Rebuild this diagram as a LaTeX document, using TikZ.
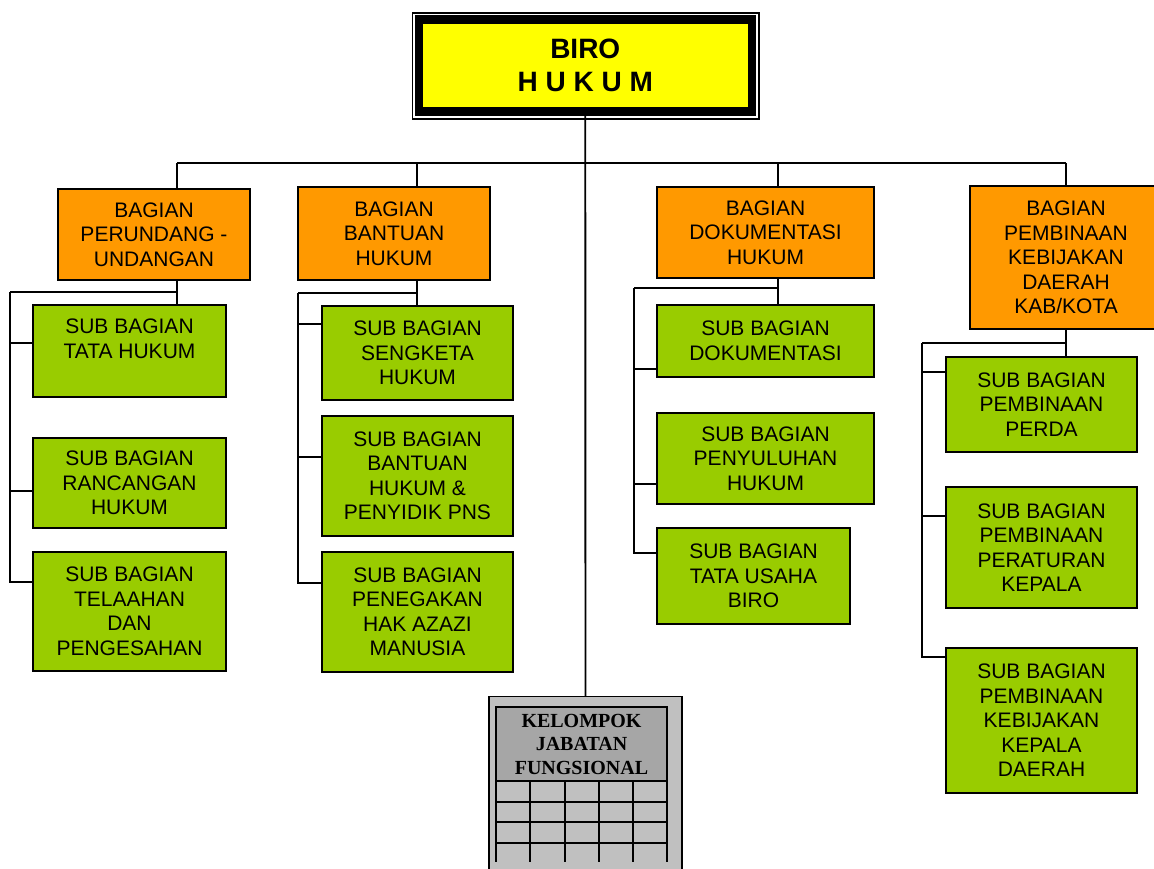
\documentclass[tikz,border=0pt]{standalone}
\usepackage{fontspec}
\setmainfont{Liberation Sans}
\newfontfamily\kelfont{Liberation Serif}
\usepackage{tikz}
\usetikzlibrary{positioning}
\definecolor{biroyellow}{RGB}{255,255,0}
\definecolor{bagianorange}{RGB}{255,153,0}
\definecolor{subgreen}{RGB}{153,204,0}
\definecolor{kelgray}{RGB}{192,192,192}
\definecolor{headgray}{RGB}{166,166,166}

\tikzset{
  orgbox/.style={draw=black, line width=1.8pt, anchor=north west, align=center,
                 inner sep=2pt, outer sep=0pt, font=\fontsize{21}{24.5}\selectfont},
  bagianbox/.style={orgbox, fill=bagianorange},
  subbox/.style={orgbox, fill=subgreen},
  link/.style={draw=black, line width=1.9pt},
  gridline/.style={draw=black, line width=2.5pt},
}

\begin{document}
\begin{tikzpicture}[x=1pt, y=-1pt]
  \useasboundingbox (0,0) rectangle (1154,869);

  % kepala biro
  \node[draw=black, line width=8.5pt, outer sep=0pt, fill=biroyellow,
        minimum width=333pt, minimum height=92pt, align=center,
        font=\bfseries\fontsize{28}{33}\selectfont]
    (biro) at (585.25,65.5) {BIRO\\H U K U M};
  \draw[line width=1.5pt] ([shift={(-6.5pt,6.5pt)}]biro.north west)
    rectangle ([shift={(7pt,-7.5pt)}]biro.south east);

  % bagian
  \node[bagianbox, minimum width=192pt, minimum height=91pt] (perundang) at (58,189)
    {BAGIAN\\PERUNDANG -\\UNDANGAN};
  \node[bagianbox, minimum width=192pt, minimum height=93pt] (bantuan) at (298,187)
    {BAGIAN\\BANTUAN\\HUKUM};
  \node[bagianbox, minimum width=217pt, minimum height=91pt] (dokumentasi) at (657,187)
    {BAGIAN\\DOKUMENTASI\\HUKUM};
  \node[bagianbox, minimum width=192pt, minimum height=143pt] (pembinaan) at (970,186)
    {BAGIAN\\PEMBINAAN\\KEBIJAKAN\\DAERAH\\KAB/KOTA};

  % sub bagian
  \node[subbox, minimum width=193pt, minimum height=92pt] (tatahukum) at (33,305)
    {SUB BAGIAN\\TATA HUKUM\\~};
  \node[subbox, minimum width=193pt, minimum height=90pt] (rancangan) at (33,438)
    {SUB BAGIAN\\RANCANGAN\\HUKUM};
  \node[subbox, minimum width=193pt, minimum height=119pt] (telaahan) at (33,552)
    {SUB BAGIAN\\TELAAHAN\\DAN\\PENGESAHAN};

  \node[subbox, minimum width=191pt, minimum height=94pt] (sengketa) at (322,306)
    {SUB BAGIAN\\SENGKETA\\HUKUM};
  \node[subbox, minimum width=191pt, minimum height=120pt] (penyidik) at (322,416)
    {SUB BAGIAN\\BANTUAN\\HUKUM \&\\PENYIDIK PNS};
  \node[subbox, minimum width=191pt, minimum height=120pt] (penegakan) at (322,552)
    {SUB BAGIAN\\PENEGAKAN\\HAK AZAZI\\MANUSIA};

  \node[subbox, minimum width=217pt, minimum height=72pt] (subdok) at (657,305)
    {SUB BAGIAN\\DOKUMENTASI};
  \node[subbox, minimum width=217pt, minimum height=91pt] (penyuluhan) at (657,413)
    {SUB BAGIAN\\PENYULUHAN\\HUKUM};
  \node[subbox, minimum width=193pt, minimum height=96pt] (tatausaha) at (657,528)
    {SUB BAGIAN\\TATA USAHA\\BIRO};

  \node[subbox, minimum width=191pt, minimum height=95pt] (perda) at (946,357)
    {SUB BAGIAN\\PEMBINAAN\\PERDA};
  \node[subbox, minimum width=191pt, minimum height=121pt] (peraturan) at (946,487)
    {SUB BAGIAN\\PEMBINAAN\\PERATURAN\\KEPALA};
  \node[subbox, minimum width=191pt, minimum height=145pt] (kebijakan) at (946,648)
    {SUB BAGIAN\\PEMBINAAN\\KEBIJAKAN\\KEPALA\\DAERAH};

  % kelompok jabatan fungsional
  \node[draw=black, line width=1.2pt, fill=kelgray, anchor=north,
        minimum width=193pt, minimum height=220pt] (kelompok) at (585.5,696) {};
  \node[gridline, fill=headgray, anchor=north, outer sep=0pt,
        minimum width=171pt, minimum height=74pt, align=center,
        font=\kelfont\bfseries\fontsize{20}{23.5}\selectfont]
    (jabatan) at (581.5,707) {KELOMPOK\\JABATAN\\FUNGSIONAL};
  \foreach \y in {802,822,843}
    \draw[gridline] (jabatan.west |- 0,\y) -- (jabatan.east |- 0,\y);
  \foreach \x in {496,530,565,599,633,667}
    \draw[gridline] (\x,781) -- (\x,862);

  % garis
  \draw[link] (biro.south) -- (kelompok.north);
  \coordinate (bus1) at (177,163);
  \coordinate (bus2) at (417,163);
  \coordinate (bus3) at (778,163);
  \coordinate (bus4) at (1066,163);
  \draw[link] (bus1) -- (bus4);
  \foreach \c/\b in {bus1/perundang, bus2/bantuan, bus3/dokumentasi, bus4/pembinaan}
    \draw[link] (\c) -- (\c |- \b.north);

  \coordinate (spine1) at (10,292);
  \coordinate (spine2) at (298,293);
  \coordinate (spine3) at (634,288);
  \coordinate (spine4) at (922,343);
  \foreach \c/\s/\b/\t in {bus1/spine1/perundang/tatahukum, bus2/spine2/bantuan/sengketa,
                           bus3/spine3/dokumentasi/subdok, bus4/spine4/pembinaan/perda} {
    \draw[link] (\c |- \b.south) -- (\c |- \t.north);
    \draw[link] (\c |- \s) -- (\s);
  }
  \foreach \s/\b/\d in {spine1/tatahukum/8, spine1/rancangan/-8, spine1/telaahan/29.5,
                        spine2/sengketa/29, spine2/penyidik/19, spine2/penegakan/29,
                        spine3/subdok/-28, spine3/penyuluhan/-25.5, spine3/tatausaha/23,
                        spine4/perda/32.5, spine4/peraturan/31.5, spine4/kebijakan/63.5}
    \draw[link] (\s) |- ([yshift=\d pt]\b.west);
\end{tikzpicture}
\end{document}
